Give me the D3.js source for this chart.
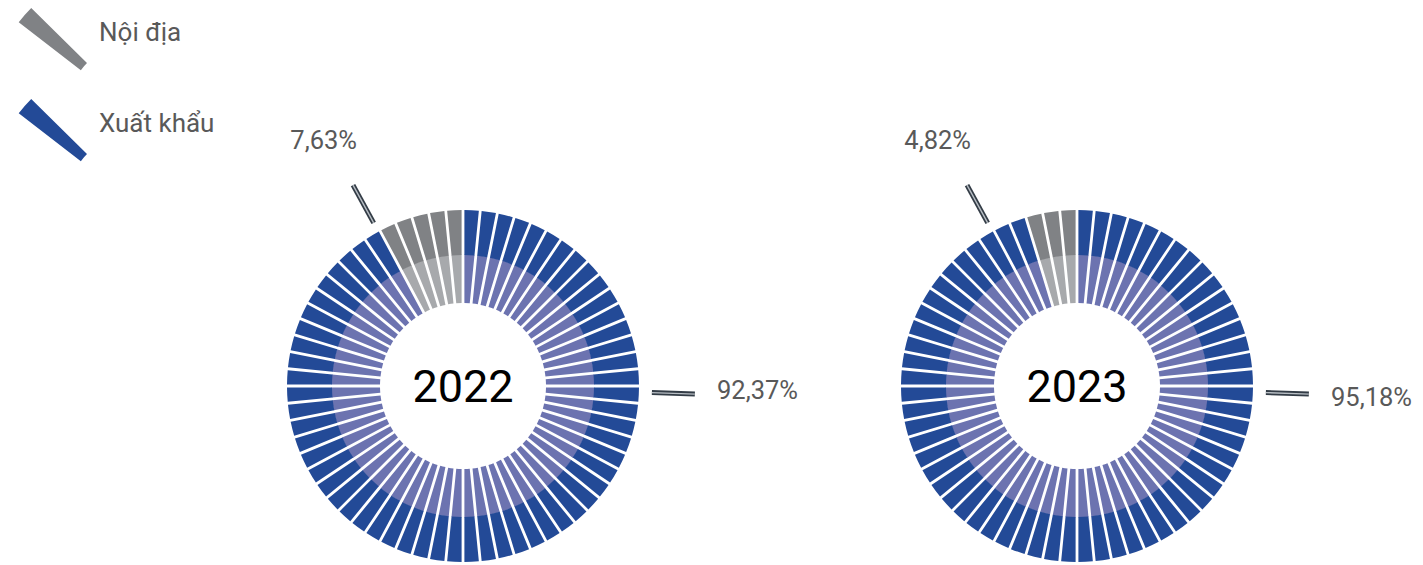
<!DOCTYPE html>
<html>
<head>
<meta charset="utf-8">
<script src="https://cdn.jsdelivr.net/npm/d3@7"></script>
<style>
  html, body { margin: 0; padding: 0; background: #fff; }
  svg { display: block; font-family: Roboto, "Noto Sans", sans-serif; }
</style>
</head>
<body>
<svg id="chart" width="1423" height="565"></svg>
<script>
// ---- data ----
const years = ["2022", "2023"];
const categories = ["Nội địa", "Xuất khẩu"];
const noiDia = [7.63, 4.82];
const xuatKhau = [92.37, 95.18];
const labelNoiDia = ["7,63%", "4,82%"];
const labelXuatKhau = ["92,37%", "95,18%"];

// ---- styles / layout ----
const SEGMENTS = 64;
const colors = {
  "Nội địa":   { outer: "#808285", inner: "#a7a9ac" },
  "Xuất khẩu": { outer: "#234a97", inner: "#6c73b0" }
};
const centers = [{ x: 463, y: 386 }, { x: 1077, y: 386 }];
const rInner = 83, rMid = 131, rOuter = 176;
const gapPx = 2.8;

const svg = d3.select("#chart");

const arcOuter = d3.arc().innerRadius(rMid).outerRadius(rOuter)
  .padRadius(100).padAngle(gapPx / 100);
const arcInner = d3.arc().innerRadius(rInner).outerRadius(rMid + 0.5)
  .padRadius(100).padAngle(gapPx / 100);

years.forEach((year, i) => {
  const c = centers[i];
  const g = svg.append("g").attr("transform", `translate(${c.x},${c.y})`);
  const nGray = Math.round(noiDia[i] / 100 * SEGMENTS);
  const segs = d3.range(SEGMENTS).map(k => ({
    cat: k >= SEGMENTS - nGray ? categories[0] : categories[1],
    startAngle: k * 2 * Math.PI / SEGMENTS,
    endAngle: (k + 1) * 2 * Math.PI / SEGMENTS
  }));
  g.selectAll("path.in").data(segs).join("path")
    .attr("class", "in").attr("d", arcInner).attr("fill", d => colors[d.cat].inner);
  g.selectAll("path.out").data(segs).join("path")
    .attr("class", "out").attr("d", arcOuter).attr("fill", d => colors[d.cat].outer);

  g.append("text").attr("x", 0).attr("y", 16).attr("text-anchor", "middle")
    .attr("font-size", 45).attr("fill", "#000").text(year);

  // leader lines
  const leaders = [
    { a: -28.7 * Math.PI / 180, r0: 186, r1: 229 },
    { a: 92.0 * Math.PI / 180, r0: 189, r1: 232 }
  ];
  leaders.forEach(l => {
    const p0 = [Math.sin(l.a) * l.r0, -Math.cos(l.a) * l.r0];
    const p1 = [Math.sin(l.a) * l.r1, -Math.cos(l.a) * l.r1];
    g.append("line").attr("x1", p0[0]).attr("y1", p0[1]).attr("x2", p1[0]).attr("y2", p1[1])
      .attr("stroke", "#333c46").attr("stroke-width", 5);
    g.append("line").attr("x1", p0[0]).attr("y1", p0[1]).attr("x2", p1[0]).attr("y2", p1[1])
      .attr("stroke", "#b8bec4").attr("stroke-width", 1.4);
  });

  g.append("text").attr("x", -106).attr("y", -237).attr("text-anchor", "end")
    .attr("font-size", 25.5).attr("fill", "#595959").text(labelNoiDia[i]);
  g.append("text").attr("x", 254).attr("y", i === 0 ? 13 : 20).attr("text-anchor", "start")
    .attr("font-size", 25.5).attr("fill", "#595959").text(labelXuatKhau[i]);
});

// ---- legend ----
const legendArc = d3.arc().innerRadius(76).outerRadius(154.5);
const legendY = [0, 91];
categories.forEach((cat, i) => {
  const a = -48.8 * Math.PI / 180, half = 0.0615;
  svg.append("path")
    .attr("transform", `translate(141,${116.6 + legendY[i]})`)
    .attr("d", legendArc({ startAngle: a - half, endAngle: a + half }))
    .attr("fill", colors[cat].outer);
  svg.append("text").attr("x", 99).attr("y", 41 + legendY[i])
    .attr("font-size", 26).attr("fill", "#595959").text(cat);
});
</script>
</body>
</html>
